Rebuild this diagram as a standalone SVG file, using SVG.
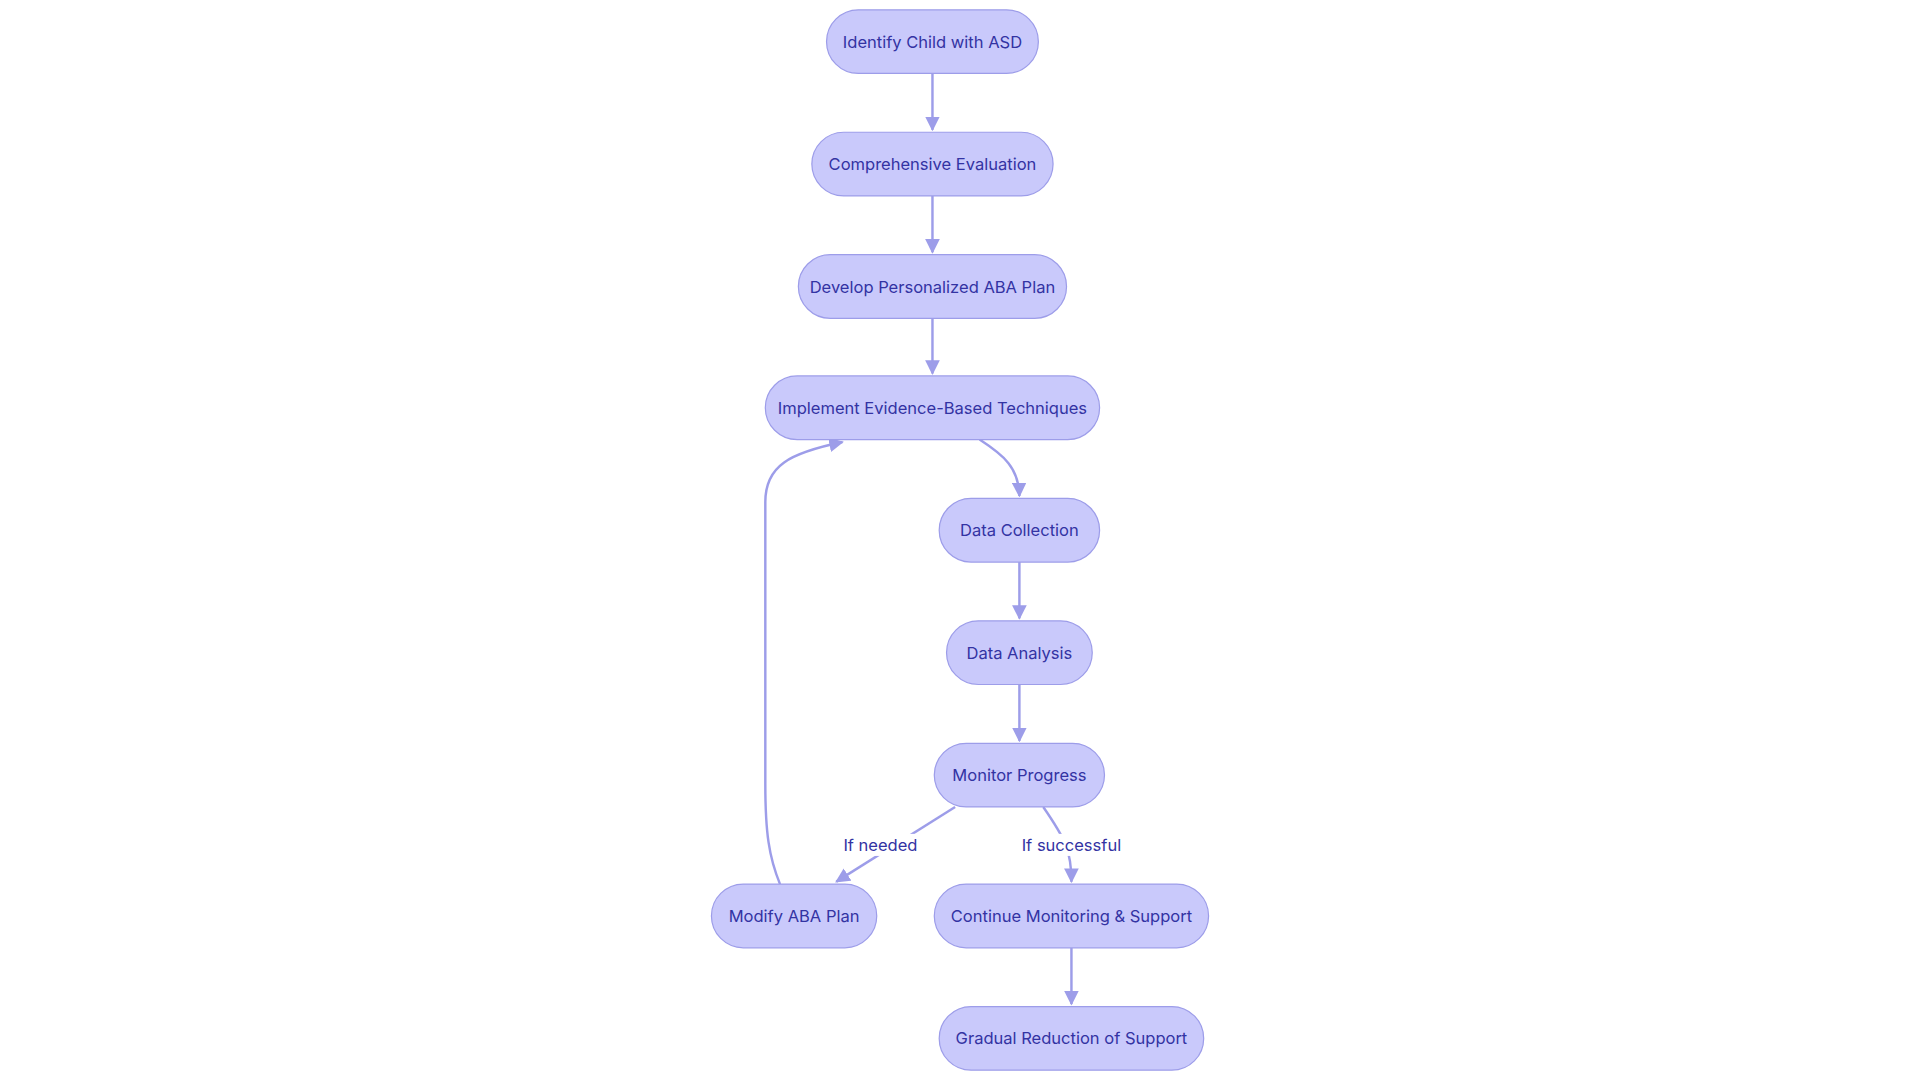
<svg xmlns="http://www.w3.org/2000/svg" width="1920" height="1080" viewBox="0 0 1920 1080">
<style>
.n rect{fill:#c9c9fb;stroke:#9d9de9;stroke-width:1}
.n text,.l text{font-family:Inter,"Liberation Sans",sans-serif;font-size:13.5px;fill:#3333a3;text-anchor:middle;dominant-baseline:central}
.e path{fill:none;stroke:#9d9de9;stroke-width:2}
.l rect{fill:#fff}
</style>
<defs><marker id="a" viewBox="0 0 10 10" refX="9" refY="5" markerWidth="6" markerHeight="6" orient="auto"><path d="M0,0L10,5L0,10z" fill="#9d9de9"/></marker></defs>
<rect width="1920" height="1080" fill="#fff"/>
<g transform="scale(1.2245)">
<g class="e">
<path d="M761.5,60V106" marker-end="url(#a)"/>
<path d="M761.5,160V206" marker-end="url(#a)"/>
<path d="M761.5,260V305" marker-end="url(#a)"/>
<path d="M800,359C820,372 832,382 832.5,405" marker-end="url(#a)"/>
<path d="M832.5,459V505" marker-end="url(#a)"/>
<path d="M832.5,559V605" marker-end="url(#a)"/>
<path d="M780,659L683,720" marker-end="url(#a)"/>
<path d="M852,659C870,685 875,695 875,720" marker-end="url(#a)"/>
<path d="M875,774V820" marker-end="url(#a)"/>
<path d="M637,722C628,700 625,680 625,640V410C625,380 645,370 688,361" marker-end="url(#a)"/>
</g>
<g class="l">
<g id="l1"><rect x="689" y="681" width="60" height="18"/><text x="719" y="690">If needed</text></g>
<g id="l2"><rect x="835" y="681" width="80" height="18"/><text x="875" y="690">If successful</text></g>
</g>
<g class="n" id="n1"><rect x="675" y="8" width="173" height="52" rx="26"/><text x="761.5" y="34">Identify Child with ASD</text></g>
<g class="n" id="n2"><rect x="663" y="108" width="197" height="52" rx="26"/><text x="761.5" y="134">Comprehensive Evaluation</text></g>
<g class="n" id="n3"><rect x="652" y="208" width="219" height="52" rx="26"/><text x="761.5" y="234">Develop Personalized ABA Plan</text></g>
<g class="n" id="n4"><rect x="625" y="307" width="273" height="52" rx="26"/><text x="761.5" y="333">Implement Evidence-Based Techniques</text></g>
<g class="n" id="n5"><rect x="767" y="407" width="131" height="52" rx="26"/><text x="832.5" y="433">Data Collection</text></g>
<g class="n" id="n6"><rect x="773" y="507" width="119" height="52" rx="26"/><text x="832.5" y="533">Data Analysis</text></g>
<g class="n" id="n7"><rect x="763" y="607" width="139" height="52" rx="26"/><text x="832.5" y="633">Monitor Progress</text></g>
<g class="n" id="n8"><rect x="581" y="722" width="135" height="52" rx="26"/><text x="648.5" y="748">Modify ABA Plan</text></g>
<g class="n" id="n9"><rect x="763" y="722" width="224" height="52" rx="26"/><text x="875" y="748">Continue Monitoring &amp; Support</text></g>
<g class="n" id="n10"><rect x="767" y="822" width="216" height="52" rx="26"/><text x="875" y="848">Gradual Reduction of Support</text></g>
</g>
</svg>
